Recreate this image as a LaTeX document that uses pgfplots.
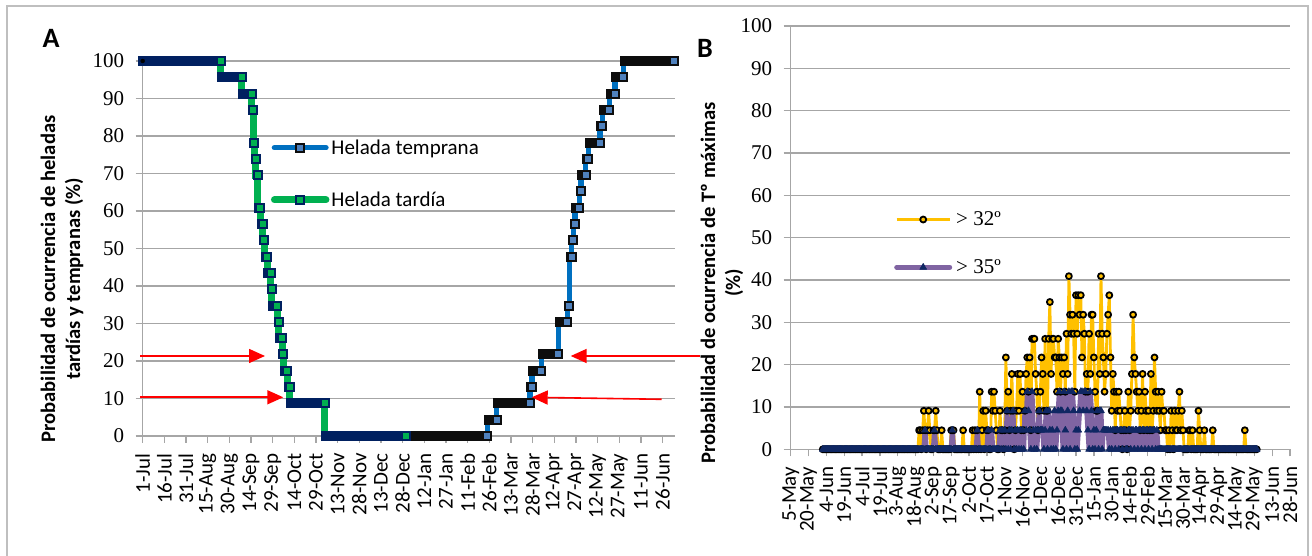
\documentclass[border=0pt]{standalone}
\usepackage{fontspec}
\setmainfont{Carlito}
\newfontfamily\serifA{Liberation Serif}
\usepackage{pgfplots}
\pgfplotsset{compat=1.18}
\usepackage{pgfplotstable}
\usetikzlibrary{arrows.meta}

\definecolor{greenL}{HTML}{00B050}
\definecolor{navyB}{HTML}{002060}
\definecolor{blueL}{HTML}{0070C0}
\definecolor{blueM}{HTML}{4F81BD}
\definecolor{blackB}{HTML}{0D0D0D}
\definecolor{gridg}{HTML}{A6A6A6}
\definecolor{frameg}{HTML}{BFBFBF}
\definecolor{goldL}{HTML}{FFC000}
\definecolor{purpleL}{HTML}{8064A2}
\definecolor{navyT}{HTML}{0F2763}

% Helada tardia: last day of each level (days from 1-Jul), level, length of the run before it
\pgfplotstableread{
d y e
0 100 0
54 100 54
68.5 95.65 13.5
75.5 91.30 6
76.5 86.96 0
77.3 78.26 0
78.3 73.91 0
79.5 69.57 0
81.4 60.87 0.9
83.2 56.52 0.8
84.2 52.17 0
86.1 47.83 0.9
88.7 43.48 1.6
89.4 39.13 0
93.2 34.78 2.8
94.2 30.43 0
96.7 26.09 1.5
97.4 21.74 0
100.1 17.39 1.7
101.8 13.04 0.7
126.2 8.70 23.4
182.5 0 55.3
}\tard

% Helada temprana
\pgfplotstableread{
d y e
184 0 0
238.6 0 54.6
245 4.35 5.4
268.2 8.70 22.2
269.6 13.04 0.4
276 17.39 5.4
287.8 21.74 10.8
294 30.43 5.2
295.4 34.78 0.4
297.1 47.83 0.7
298.2 52.17 0.1
299.2 56.52 0
302.4 60.87 2.2
303.5 65.22 0.1
306.8 69.57 2.3
308.6 73.91 0.8
316.7 78.26 7.1
318.3 82.61 0.6
323.1 86.96 3.8
326.9 91.30 2.8
332.8 95.65 4.9
367.7 100 33.9
}\temp

% Panel B: day (from 5-May), P(Tmax>32), P(Tmax>35)
\pgfplotstableread[row sep=\\]{
d p q\\
27 0 0\\28 0 0\\29 0 0\\30 0 0\\31 0 0\\32 0 0\\33 0 0\\34 0 0\\35 0 0\\36 0 0\\
37 0 0\\38 0 0\\39 0 0\\40 0 0\\41 0 0\\42 0 0\\43 0 0\\44 0 0\\45 0 0\\46 0 0\\
47 0 0\\48 0 0\\49 0 0\\50 0 0\\51 0 0\\52 0 0\\53 0 0\\54 0 0\\55 0 0\\56 0 0\\
57 0 0\\58 0 0\\59 0 0\\60 0 0\\61 0 0\\62 0 0\\63 0 0\\64 0 0\\65 0 0\\66 0 0\\
67 0 0\\68 0 0\\69 0 0\\70 0 0\\71 0 0\\72 0 0\\73 0 0\\74 0 0\\75 0 0\\76 0 0\\
77 0 0\\78 0 0\\79 0 0\\80 0 0\\81 0 0\\82 0 0\\83 0 0\\84 0 0\\85 0 0\\86 0 0\\
87 0 0\\88 0 0\\89 0 0\\90 0 0\\91 0 0\\92 0 0\\93 0 0\\94 0 0\\95 0 0\\96 0 0\\
97 0 0\\98 0 0\\99 0 0\\100 0 0\\101 0 0\\102 0 0\\103 0 0\\104 0 0\\105 0 0\\106 0 0\\
107 0 0\\108 4.5 0\\109 4.5 0\\110 0 0\\111 4.5 0\\112 9.1 0\\113 4.5 4.5\\114 0 0\\115 4.5 0\\116 9.1 0\\
117 4.5 0\\118 0 0\\119 0 0\\120 4.5 0\\121 4.5 4.5\\122 9.1 0\\123 4.5 0\\124 0 0\\125 0 0\\126 0 0\\
127 4.5 0\\128 0 0\\129 0 0\\130 0 0\\131 0 0\\132 0 0\\133 0 0\\134 0 0\\135 4.5 0\\136 4.5 4.5\\
137 4.5 0\\138 0 0\\139 0 0\\140 0 0\\141 0 0\\142 0 0\\143 0 0\\144 0 0\\145 4.5 0\\146 0 0\\
147 0 0\\148 0 0\\149 0 0\\150 0 0\\151 0 0\\152 0 0\\153 4.5 0\\154 0 0\\155 4.5 0\\156 0 0\\
157 4.5 4.5\\158 0 0\\159 13.6 0\\160 0 0\\161 4.5 0\\162 9.1 0\\163 0 0\\164 9.1 0\\165 4.5 0\\166 4.5 4.5\\
167 0 0\\168 0 0\\169 13.6 4.5\\170 9.1 0\\171 13.6 0\\172 9.1 0\\173 4.5 0\\174 0 0\\175 0 0\\176 9.1 4.5\\
177 4.5 0\\178 4.5 4.5\\179 0 0\\180 4.5 4.5\\181 21.7 0\\182 9.1 9.1\\183 13.6 0\\184 4.5 4.5\\185 9.1 0\\186 17.8 4.5\\
187 9.1 9.1\\188 0 0\\189 4.5 4.5\\190 9.1 0\\191 17.8 4.5\\192 9.1 0\\193 17.8 4.5\\194 4.5 0\\195 13.6 4.5\\196 4.5 0\\
197 9.1 9.1\\198 17.8 4.5\\199 21.7 13.6\\200 13.6 9.1\\201 21.7 4.5\\202 4.5 0\\203 26.1 13.6\\204 26.1 4.5\\205 26.1 0\\206 17.8 4.5\\
207 13.6 0\\208 4.5 4.5\\209 9.1 9.1\\210 13.6 4.5\\211 21.7 4.5\\212 17.8 4.5\\213 9.1 0\\214 26.1 4.5\\215 9.1 9.1\\216 9.1 0\\
217 26.1 9.1\\218 34.8 4.5\\219 17.8 0\\220 26.1 4.5\\221 26.1 0\\222 21.7 9.1\\223 21.7 0\\224 13.6 4.5\\225 26.1 9.1\\226 21.7 13.6\\
227 13.6 9.1\\228 21.7 9.1\\229 17.8 0\\230 21.7 13.6\\231 13.6 4.5\\232 27.3 0\\233 17.8 9.1\\234 40.9 13.6\\235 31.8 0\\236 27.3 13.6\\
237 31.8 13.6\\238 27.3 9.1\\239 13.6 0\\240 36.4 4.5\\241 27.3 0\\242 36.4 4.5\\243 31.8 9.1\\244 36.4 13.6\\245 21.7 13.6\\246 31.8 9.1\\
247 27.3 13.6\\248 13.6 13.6\\249 17.8 9.1\\250 13.6 4.5\\251 27.3 0\\252 17.8 13.6\\253 31.8 9.1\\254 31.8 0\\255 21.7 4.5\\256 13.6 0\\
257 9.1 4.5\\258 9.1 9.1\\259 27.3 0\\260 17.8 9.1\\261 40.9 9.1\\262 27.3 0\\263 21.7 4.5\\264 13.6 4.5\\265 17.8 4.5\\266 27.3 4.5\\
267 31.8 4.5\\268 36.4 0\\269 21.7 4.5\\270 9.1 0\\271 17.8 4.5\\272 13.6 4.5\\273 4.5 0\\274 13.6 4.5\\275 9.1 4.5\\276 13.6 0\\
277 9.1 4.5\\278 4.5 4.5\\279 0 0\\280 4.5 4.5\\281 9.1 4.5\\282 4.5 0\\283 0 0\\284 13.6 4.5\\285 4.5 4.5\\286 9.1 0\\
287 17.8 4.5\\288 31.8 4.5\\289 21.7 0\\290 17.8 4.5\\291 13.6 4.5\\292 9.1 0\\293 13.6 4.5\\294 4.5 4.5\\295 9.1 0\\296 17.8 4.5\\
297 4.5 4.5\\298 13.6 0\\299 9.1 4.5\\300 4.5 4.5\\301 9.1 0\\302 4.5 4.5\\303 17.8 4.5\\304 4.5 0\\305 9.1 4.5\\306 21.7 4.5\\
307 13.6 0\\308 9.1 4.5\\309 13.6 0\\310 9.1 0\\311 4.5 0\\312 13.6 0\\313 9.1 0\\314 9.1 0\\315 4.5 0\\316 4.5 0\\
317 0 0\\318 4.5 0\\319 0 0\\320 9.1 0\\321 4.5 0\\322 0 0\\323 9.1 0\\324 4.5 0\\325 4.5 0\\326 9.1 0\\
327 13.6 0\\328 4.5 0\\329 9.1 0\\330 4.5 0\\331 0 0\\332 0 0\\333 0 0\\334 0 0\\335 4.5 0\\336 4.5 0\\
337 0 0\\338 4.5 0\\339 0 0\\340 0 0\\341 0 0\\342 0 0\\343 9.1 0\\344 4.5 0\\345 0 0\\346 0 0\\
347 0 0\\348 4.5 0\\349 0 0\\350 0 0\\351 0 0\\352 0 0\\353 0 0\\354 0 0\\355 4.5 0\\356 0 0\\
357 0 0\\358 0 0\\359 0 0\\360 0 0\\361 0 0\\362 0 0\\363 0 0\\364 0 0\\365 0 0\\366 0 0\\
367 0 0\\368 0 0\\369 0 0\\370 0 0\\371 0 0\\372 0 0\\373 0 0\\374 0 0\\375 0 0\\376 0 0\\
377 0 0\\378 0 0\\379 0 0\\380 0 0\\381 0 0\\382 4.5 0\\383 0 0\\384 0 0\\385 0 0\\386 0 0\\
387 0 0\\388 0 0\\389 0 0\\390 0 0\\391 0 0\\392 0 0\\
}\tabB

\pgfplotsset{
  commonax/.style={
    scale only axis, clip=false,
    axis x line*=bottom, axis y line*=left,
    axis line style={draw=gridg, line width=1.3pt, -},
    tick style={draw=gridg, line width=1.3pt},
    tick align=outside, major tick length=7pt,
    ymajorgrids, grid style={draw=gridg, line width=1.3pt},
    ymin=0, ymax=100, ytick={0,10,...,100},
    /pgf/number format/assume math mode=true,
    yticklabel style={font=\serifA\fontsize{21}{21}\selectfont},
    xticklabel style={rotate=90, anchor=east, font=\fontsize{21}{21}\selectfont},
    xticklabel shift=7pt, yticklabel shift=8pt,
    legend cell align=left,
  }
}

\begin{document}
\begin{tikzpicture}
\path[use as bounding box] (0pt,0pt) rectangle (1312pt,556pt);
\draw[frameg, line width=2pt] (7pt,-10pt) -- (7pt,550pt) -- (1308pt,550pt) -- (1308pt,-10pt);
\node[font=\bfseries\fontsize{28}{28}\selectfont] at (51pt,518pt) {A};
\node[font=\bfseries\fontsize{28}{28}\selectfont] at (705pt,508pt) {B};

% ---------------- Panel A ----------------
\begin{axis}[commonax,
  at={(142.7pt,120pt)}, anchor=south west, width=532pt, height=375pt,
  xmin=0, xmax=368.4, xtick={0,15,...,360},
  xticklabels={1-Jul,16-Jul,31-Jul,15-Aug,30-Aug,14-Sep,29-Sep,14-Oct,29-Oct,13-Nov,28-Nov,13-Dec,28-Dec,12-Jan,27-Jan,11-Feb,26-Feb,13-Mar,28-Mar,12-Apr,27-Apr,12-May,27-May,11-Jun,26-Jun},
  ylabel={Probabilidad de ocurrencia de heladas\\tardías y tempranas (\%)},
  ylabel style={font=\bfseries\fontsize{20.6}{25}\selectfont, align=center, at={(axis description cs:-0.1517,0.4187)}, anchor=center},
  legend style={at={(axis description cs:0.2407,0.8013)}, anchor=north west, draw=none, fill=none, inner xsep=0pt, inner ysep=2pt, row sep=32pt, column sep=0pt, font=\fontsize{21}{25}\selectfont},
  legend image code/.code={\draw[mark repeat=2,mark phase=2,#1] plot coordinates {(0pt,0pt) (25.75pt,0pt) (51.5pt,0pt)};},
]
\addlegendimage{draw=blueL, line width=5.5pt, line cap=round, mark=square*, mark size=4pt, mark options={fill=blueM, draw=blackB, line width=2pt}}
\addlegendentry{Helada temprana}
\addlegendimage{draw=greenL, line width=7pt, line cap=round, mark=square*, mark size=4pt, mark options={fill=greenL, draw=navyB, line width=2pt}}
\addlegendentry{Helada tardía}

% temprana
\addplot[forget plot, const plot mark right, draw=blueL, line width=5.5pt, mark=none] table[x=d, y=y] {\temp};
\addplot[forget plot, only marks, mark=none,
  error bars/.cd, x dir=minus, x explicit, error mark=none,
  error bar style={draw=blackB, line width=10pt, line cap=rect}]
  table[x=d, y=y, x error minus=e] {\temp};
\addplot[forget plot, only marks, skip coords between index={0}{1}, mark=square*, mark size=4pt,
  mark options={fill=blueM, draw=blackB, line width=2pt}] table[x=d, y=y] {\temp};
% tardia
\addplot[forget plot, const plot mark right, draw=greenL, line width=7pt, mark=none] table[x=d, y=y] {\tard};
\addplot[forget plot, only marks, mark=none,
  error bars/.cd, x dir=minus, x explicit, error mark=none,
  error bar style={draw=navyB, line width=10pt, line cap=rect}]
  table[x=d, y=y, x error minus=e] {\tard};
\addplot[forget plot, only marks, skip coords between index={0}{1}, mark=square*, mark size=4pt,
  mark options={fill=greenL, draw=navyB, line width=2pt}] table[x=d, y=y] {\tard};
\end{axis}

% ---------------- Panel B ----------------
\begin{axis}[commonax,
  at={(790.7pt,106.7pt)}, anchor=south west, width=499.3pt, height=423.3pt,
  xmin=0, xmax=420, xtick={0,15,...,420},
  xticklabels={5-May,20-May,4-Jun,19-Jun,4-Jul,19-Jul,3-Aug,18-Aug,2-Sep,17-Sep,2-Oct,17-Oct,1-Nov,16-Nov,1-Dec,16-Dec,31-Dec,15-Jan,30-Jan,14-Feb,29-Feb,15-Mar,30-Mar,14-Apr,29-Apr,14-May,29-May,13-Jun,28-Jun},
  ylabel={Probabilidad de ocurrencia de Tº máximas\\(\%)},
  ylabel style={font=\bfseries\fontsize{20.6}{25}\selectfont, align=center, at={(axis description cs:-0.1376,0.393)}, anchor=center},
  legend style={at={(axis description cs:0.2069,0.571)}, anchor=north west, draw=none, fill=none, inner xsep=0pt, inner ysep=2pt, row sep=28.3pt, column sep=2pt, font=\serifA\fontsize{21}{25}\selectfont},
  legend image code/.code={\draw[mark repeat=2,mark phase=2,#1] plot coordinates {(0pt,0pt) (26.5pt,0pt) (53pt,0pt)};},
]
\addplot[draw=goldL, line width=2.8pt, line join=round, mark=*, mark size=3pt,
  mark options={fill=goldL, draw=black, line width=1.8pt}] table[x=d, y=p] {\tabB};
\addlegendentry{> 32º}
\addplot[draw=purpleL, line width=5pt, line join=round, line cap=round, mark=triangle*, mark size=4pt,
  mark options={fill=navyT, draw=navyT, line width=0.5pt}] table[x=d, y=q] {\tabB};
\addlegendentry{> 35º}
\end{axis}

% red arrows (annotations)
\draw[red, line width=1.6pt, -{Triangle[length=16pt, width=14pt]}] (140pt,200pt) -- (265pt,200pt);
\draw[red, line width=1.6pt, -{Triangle[length=16pt, width=14pt]}] (140pt,158.7pt) -- (283.3pt,158.7pt);
\draw[red, line width=1.6pt, -{Triangle[length=16pt, width=14pt]}] (700pt,200pt) -- (570.7pt,200pt);
\draw[red, line width=1.6pt, -{Triangle[length=16pt, width=14pt]}] (661.7pt,156.7pt) -- (531.7pt,158.7pt);
\end{tikzpicture}
\end{document}
